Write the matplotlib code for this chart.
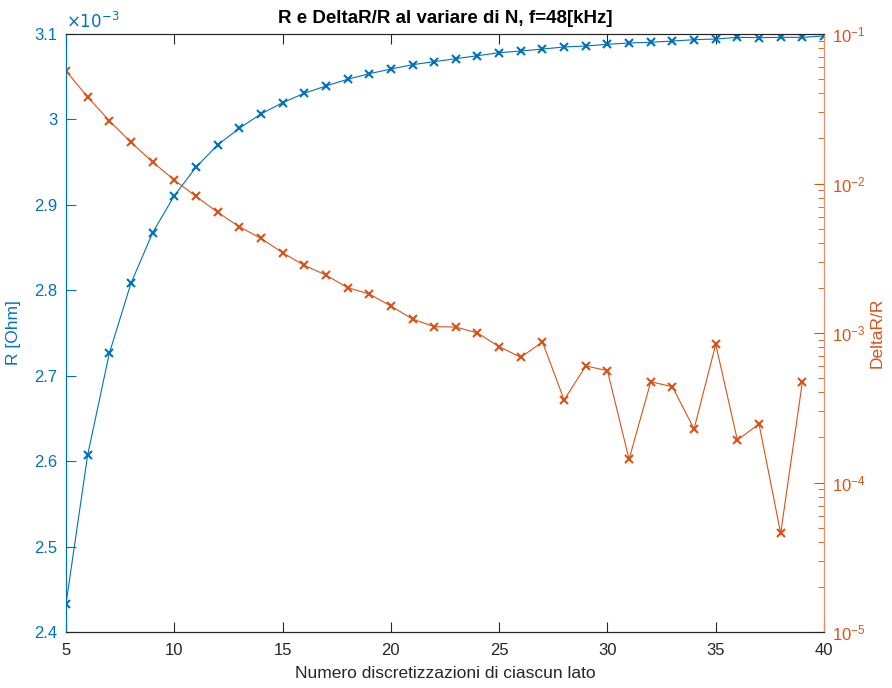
import numpy as np
import matplotlib
matplotlib.use("Agg")
import matplotlib.pyplot as plt
from matplotlib.ticker import FuncFormatter, LogLocator

plt.rcParams['font.family'] = ['Liberation Sans', 'DejaVu Sans']
plt.rcParams['font.size'] = 12

# data
n_R = list(range(5, 41))
R = [2.4328, 2.6072, 2.7262, 2.8082, 2.8674, 2.9107, 2.9440, 2.9701, 2.9896, 3.0064,
     3.0196, 3.0306, 3.0391, 3.0470, 3.0535, 3.0590, 3.0641, 3.0676, 3.0711, 3.0746,
     3.0781, 3.0801, 3.0824, 3.0848, 3.0860, 3.0879, 3.0895, 3.0903, 3.0918, 3.0933,
     3.0941, 3.0961, 3.0957, 3.0961, 3.0961, 3.0977]
R = [r * 1e-3 for r in R]

n_d = list(range(5, 40))
dR = [0.0566, 0.0379, 0.0263, 0.01886, 0.01393, 0.01055, 0.00821, 0.00642, 0.00514, 0.0043,
      0.003444, 0.002836, 0.002443, 0.00201, 0.001824, 0.001516, 0.00124, 0.001102, 0.001096, 0.001,
      0.00081, 0.000688, 0.000871, 0.0003565, 0.000602, 0.00056, 0.0001429, 0.000472, 0.000437, 0.000228,
      0.00084, 0.0001924, 0.000246, 0.0000457, 0.00047]

blue = '#0072BD'
orange = '#D95319'
dark = '#262626'

fig = plt.figure(figsize=(8.92, 6.88), dpi=100)
ax = fig.add_axes([66/892, 56/688, 758/892, 598/688])
ax2 = ax.twinx()

ax.plot(n_R, R, color=blue, marker='x', markersize=6, markeredgewidth=1.5, linewidth=0.8)
ax2.plot(n_d, dR, color=orange, marker='x', markersize=6, markeredgewidth=1.5, linewidth=0.8)

ax.set_xlim(5, 40)
ax.set_ylim(2.4e-3, 3.1e-3)
ax.set_xticks(range(5, 41, 5))
ax.set_yticks(np.arange(2.4e-3, 3.1001e-3, 0.1e-3))
# MATLAB style: 3.1, 3, 2.9 ... with a separate x10^-3 label
ax.yaxis.set_major_formatter(FuncFormatter(lambda v, p: '%g' % round(v * 1e3, 3)))
ax.text(0.0, 1.005, r'$\times10^{-3}$', transform=ax.transAxes, color=blue,
        fontsize=12, ha='left', va='bottom')

ax2.set_yscale('log')
ax2.set_ylim(1e-5, 1e-1)
ax2.yaxis.set_major_locator(LogLocator(base=10, numticks=10))
ax2.yaxis.set_minor_locator(LogLocator(base=10, subs=np.arange(2, 10), numticks=10))

ax.tick_params(axis='x', direction='in', colors=dark, top=True, length=7, pad=8, labelsize=12)
ax.tick_params(axis='y', direction='in', colors=blue, length=7, pad=6, labelsize=12)
ax2.tick_params(axis='y', which='major', direction='in', colors=orange, length=7, pad=6, labelsize=12)
ax2.tick_params(axis='y', which='minor', direction='in', colors=orange, length=4)

for a in (ax, ax2):
    a.spines['top'].set_color(dark)
    a.spines['bottom'].set_color(dark)
    a.spines['left'].set_color(blue)
    a.spines['right'].set_color('#E8906A')
    for s in a.spines.values():
        s.set_linewidth(0.8)

ax.set_xlabel('Numero discretizzazioni di ciascun lato', color=dark, fontsize=12.5, labelpad=6)
ax.set_ylabel('R [Ohm]', color=blue, fontsize=12.5, labelpad=10)
ax2.set_ylabel('DeltaR/R', color=orange, fontsize=12.5, labelpad=3)
ax.set_title('R e DeltaR/R al variare di N, f=48[kHz]', fontweight='bold', fontsize=13.5,
             color='black', pad=8)

fig.savefig('out.png', dpi=100)
